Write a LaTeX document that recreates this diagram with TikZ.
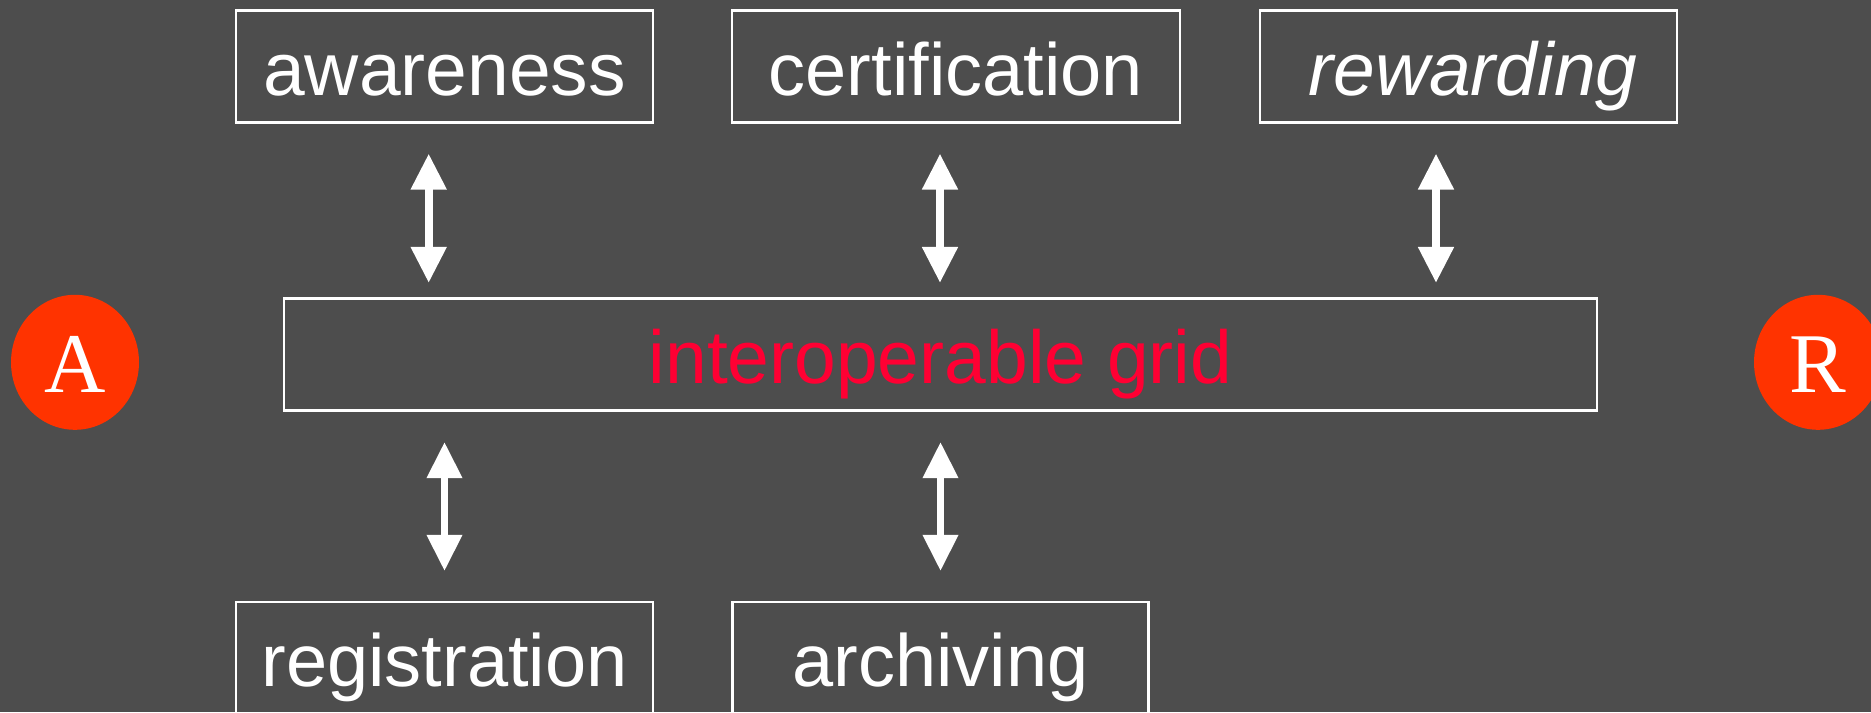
\documentclass[tikz,border=0pt]{standalone}
\usepackage{fontspec}
\setmainfont[Ligatures=NoCommon]{Liberation Sans}
\newfontfamily\serifcap{Liberation Serif}
\usetikzlibrary{arrows.meta,shapes.geometric}
\definecolor{slate}{HTML}{4D4D4D}
\definecolor{badge}{HTML}{FF3300}
\definecolor{gridred}{HTML}{FF0033}
\tikzset{
  boxnode/.style={draw=white,line width=2.2pt,text=white,inner sep=0pt,
    minimum height=112pt,text height=84.5pt,text depth=27.5pt,
    font=\fontsize{75}{80}\selectfont},
  snugtext/.style={font=\fontsize{74}{80}\selectfont},
  badgenode/.style={ellipse,fill=badge,text=white,inner sep=0pt,
    minimum width=128pt,minimum height=135pt,text height=60pt,text depth=0pt,
    font=\serifcap\fontsize{85}{90}\selectfont},
  twoway/.style={draw=white,line width=8pt,
    {Triangle[length=36pt,width=34pt]}-{Triangle[length=36pt,width=34pt]},
    shorten <=30pt,shorten >=14.5pt},
  twowaydown/.style={draw=white,line width=7pt,
    {Triangle[length=36pt,width=34pt]}-{Triangle[length=36pt,width=34pt]},
    shorten <=30.5pt,shorten >=30pt}
}
\begin{document}
\begin{tikzpicture}[x=1pt,y=-1pt]
\useasboundingbox (0,0) rectangle (1871,712);
\clip (0,0) rectangle (1871,712);
\fill[slate] (0,0) rectangle (1871,712);
\node[boxnode,minimum width=417pt] (aware) at (444.5,66.5) {awareness};
\node[boxnode,snugtext,minimum width=448pt] (cert) at (955.8,66.5) {certification};
\node[boxnode,minimum width=417pt] (reward) at (1468.5,66.5) {\hspace{9pt}\itshape rewarding};
\node[boxnode,minimum width=1313pt,text=gridred] (grid) at (940.5,354.5) {interoperable grid};
\node[boxnode,snugtext,minimum width=417pt] (regis) at (444.5,658) {registration};
\node[boxnode,snugtext,minimum width=416pt] (arch) at (940.5,658) {archiving};
\node[badgenode] (a) at (75,362.3) {A};
\node[badgenode] (r) at (1818,362.3) {R};
\coordinate (c1) at (428.7,0);
\coordinate (c2) at (940,0);
\coordinate (c3) at (1436,0);
\coordinate (c4) at (444.5,0);
\draw[twoway] (aware.south -| c1) -- (grid.north -| c1);
\draw[twoway] (cert.south -| c2) -- (grid.north -| c2);
\draw[twoway] (reward.south -| c3) -- (grid.north -| c3);
\draw[twowaydown] (grid.south -| c4) -- (regis.north -| c4);
\draw[twowaydown] (grid.south -| arch) -- (arch.north);
\end{tikzpicture}
\end{document}
